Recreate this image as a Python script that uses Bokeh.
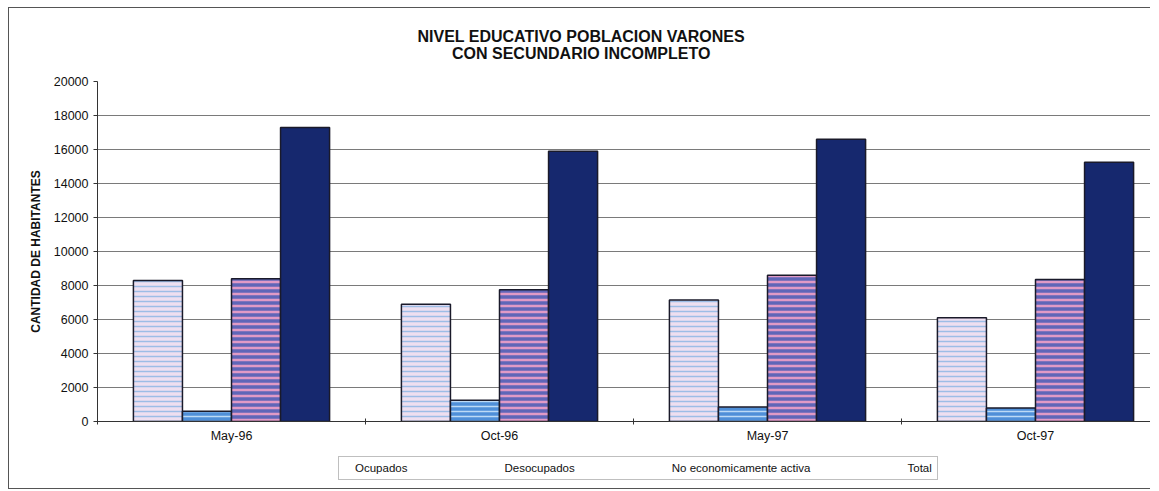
from bokeh.plotting import figure
from bokeh.layouts import column
from bokeh.models import (ColumnDataSource, Range1d, FixedTicker, Legend, LegendItem, Title,
                          CDSView, IndexFilter)
from bokeh.transform import dodge
from bokeh.embed import file_html
from bokeh.resources import INLINE

# ---- data ----
categories = ["May-96", "Oct-96", "May-97", "Oct-97"]
ocupados = [8300, 6900, 7150, 6100]
desocupados = [600, 1250, 850, 800]
no_econ = [8400, 7750, 8600, 8350]
total = [17300, 15900, 16600, 15250]
series_names = ["Ocupados", "Desocupados", "No economicamente activa", "Total"]
y_ticks = [0, 2000, 4000, 6000, 8000, 10000, 12000, 14000, 16000, 18000, 20000]
title_lines = ["NIVEL EDUCATIVO POBLACION VARONES", "CON SECUNDARIO INCOMPLETO"]
y_label = "CANTIDAD DE HABITANTES"

FONT = "Liberation Sans"
pos = [i + 1 for i in range(len(categories))]
source = ColumnDataSource(dict(x=pos, cat=categories, ocupados=ocupados,
                               desocupados=desocupados, no_econ=no_econ, total=total))

W, H = 1141, 443
BL, BR, BT, BB = 88, 0, 73, 30
FRAME_W = W - BL - BR
UNIT = 268.0
p = figure(width=W, height=H,
           x_range=Range1d(0.5, 0.5 + FRAME_W / UNIT), y_range=Range1d(0, 20000),
           output_backend="svg", toolbar_location=None,
           min_border_left=BL, min_border_right=BR, min_border_top=BT, min_border_bottom=BB,
           background_fill_color="white", border_fill_color="white",
           outline_line_color=None)

bw = 0.183
offsets = [-1.5 * bw, -0.5 * bw, 0.5 * bw, 1.5 * bw]
styles = [
    dict(fill_color="#eedff0", hatch_pattern="horizontal_line", hatch_color="#9dbde6", hatch_scale=5, hatch_weight=1.5),
    dict(fill_color="#4f8fd8", hatch_pattern="horizontal_line", hatch_color="#bcdaf6", hatch_scale=5, hatch_weight=1.5),
    dict(fill_color="#5f66b8", hatch_pattern="horizontal_line", hatch_color="#e09ac6", hatch_scale=6, hatch_weight=2.5),
    dict(fill_color="#16286e"),
]
fields = ["ocupados", "desocupados", "no_econ", "total"]
for f, off, st in zip(fields, offsets, styles):
    p.vbar(x=dodge("x", off, range=p.x_range), top=f, width=bw, source=source,
           line_color="#1a1a2a", line_width=1.5, **st)

# axes
p.xgrid.grid_line_color = None
p.ygrid.grid_line_color = "#7a7a7a"
p.ygrid.grid_line_width = 1
p.yaxis.ticker = FixedTicker(ticks=y_ticks)
p.ygrid.ticker = FixedTicker(ticks=y_ticks)
p.yaxis.minor_tick_line_color = None
p.yaxis.major_tick_in = 0
p.yaxis.major_tick_out = 4
p.yaxis.axis_line_color = "#333"
p.yaxis.major_tick_line_color = "#333"
p.yaxis.major_label_text_font = FONT
p.yaxis.major_label_text_font_size = "12.5px"
p.yaxis.major_label_text_color = "#111"
p.yaxis.major_label_standoff = 5
p.yaxis.axis_label = y_label
p.yaxis.axis_label_text_font = FONT
p.yaxis.axis_label_text_font_style = "bold"
p.yaxis.axis_label_text_font_size = "12px"
p.yaxis.axis_label_text_color = "#111"
p.yaxis.axis_label_standoff = 8

p.xaxis.ticker = FixedTicker(ticks=pos, minor_ticks=[q - 0.5 for q in pos] + [pos[-1] + 0.5])
p.xaxis.major_label_overrides = {q: c for q, c in zip(pos, categories)}
p.xaxis.major_tick_in = 0
p.xaxis.major_tick_out = 0
p.xaxis.minor_tick_in = 3
p.xaxis.minor_tick_out = 3
p.xaxis.minor_tick_line_color = "#333"
p.xaxis.axis_line_color = "#333"
p.xaxis.major_label_text_font = FONT
p.xaxis.major_label_text_font_size = "12.5px"
p.xaxis.major_label_text_color = "#111"
p.xaxis.major_label_standoff = 4

# title: one two-line block, lines centred within the block
p.title = None
ttl = Title(text="\n".join(title_lines), align="left", offset=320, text_align="center",
            vertical_align="top", text_font=FONT, text_font_style="bold",
            text_font_size="16px", text_color="#111", text_line_height=1.0,
            standoff=36)
p.add_layout(ttl, "above")

# legend strip under the chart: same series with an empty view, used for the legend only
leg = figure(width=W, height=37, output_backend="svg", toolbar_location=None,
             x_range=Range1d(50, 51), y_range=Range1d(0, 1),
             x_axis_location=None, y_axis_location=None, min_border=0,
             background_fill_color="white", border_fill_color="white",
             outline_line_color=None)
leg.grid.visible = False
leg_renderers = [leg.vbar(x=dodge("x", off, range=leg.x_range), top=f, width=bw, source=source,
                          view=CDSView(filter=IndexFilter(indices=[])),
                          line_color="#1a1a2a", line_width=1, **st)
                 for f, off, st in zip(fields, offsets, styles)]
legend = Legend(items=[LegendItem(label=n, renderers=[r]) for n, r in zip(series_names, leg_renderers)],
                orientation="horizontal", location=(241, 8),
                border_line_color="#7f7f7f", border_line_width=1,
                label_text_font=FONT, label_text_font_size="11.5px", label_text_color="#111",
                glyph_width=9, glyph_height=9, label_height=12, spacing=86, padding=5, margin=0,
                label_standoff=2)
leg.add_layout(legend)

lay = column(p, leg, spacing=0)
lay.styles = {"margin-left": "8px", "margin-top": "7px",
              "border-left": "1px solid #555", "border-top": "1px solid #555",
              "border-bottom": "1px solid #555"}

open("out.html", "w").write(file_html(lay, INLINE))
